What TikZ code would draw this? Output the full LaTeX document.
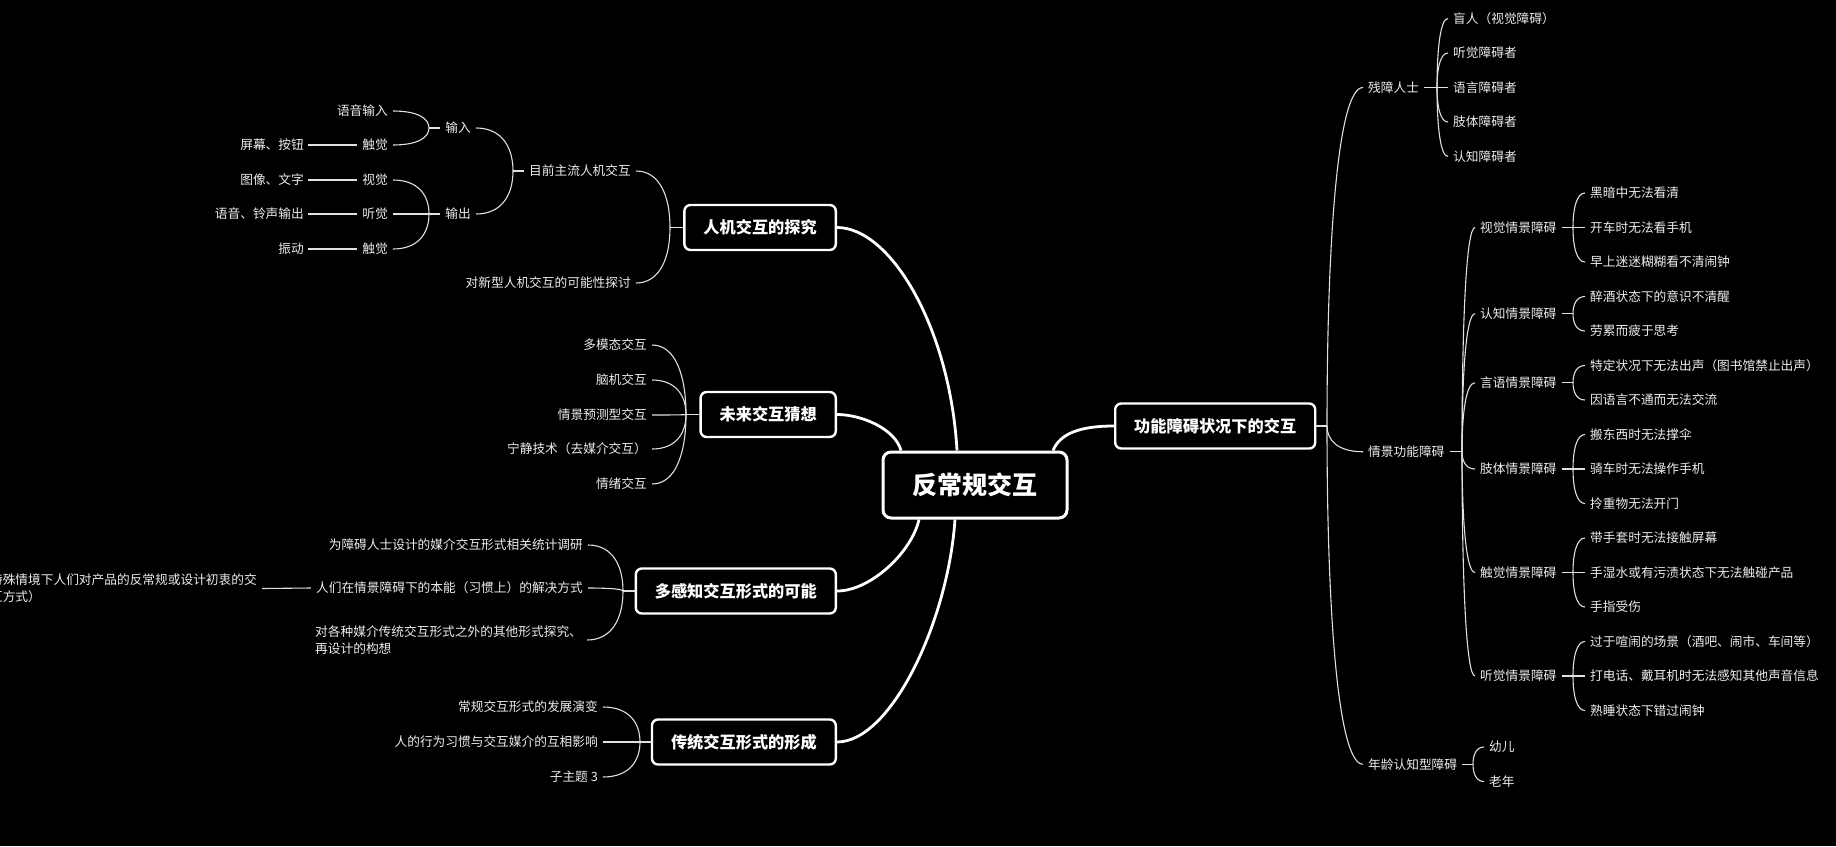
\documentclass[tikz,border=0pt]{standalone}
\usepackage{fontspec}
\setmainfont{Noto Sans CJK SC}
\usetikzlibrary{calc}
\definecolor{leafc}{gray}{0.93}
\definecolor{linec}{gray}{0.88}
\tikzset{
  leaf/.style={text=leafc, inner sep=0pt, font=\fontsize{12.7}{17}\selectfont},
  topic/.style={draw=white, line width=2.4pt, rounded corners=6pt, fill=black, text=white, inner xsep=19pt, inner ysep=0pt, minimum height=45pt, font=\fontsize{16.2}{19}\selectfont\bfseries},
  rootbox/.style={draw=white, line width=3pt, rounded corners=8pt, fill=black, text=white, minimum width=184pt, minimum height=66pt, font=\fontsize{25}{30}\selectfont\bfseries},
  brline/.style={draw=linec, line width=1.1pt},
  mline/.style={draw=white, line width=2.8pt},
}
\newcommand\brL[2]{\draw[brline] let \p1=(#1), \p2=([xshift=5pt]#2.east) in (\p1) .. controls (\x1,{\y1+0.55*(\y2-\y1)}) and ({\x1+0.3*(\x2-\x1)},\y2) .. (\p2);}
\newcommand\brR[2]{\draw[brline] let \p1=(#1), \p2=([xshift=-5pt]#2.west) in (\p1) .. controls (\x1,{\y1+0.55*(\y2-\y1)}) and ({\x1+0.3*(\x2-\x1)},\y2) .. (\p2);}
\begin{document}
\begin{tikzpicture}[x=1pt,y=-1pt]
\fill[black] (0,0) rectangle (1836,846);
\useasboundingbox (0,0) rectangle (1836,846);
\clip (0,0) rectangle (1836,846);

% root and main topics
\node[rootbox] (root) at (975,485) {反常规交互};
\node[topic, anchor=east] (ren) at (837,227.5) {人机交互的探究};
\node[topic, anchor=east] (wl) at (837,414.5) {未来交互猜想};
\node[topic, anchor=east] (dgz) at (837,591) {多感知交互形式的可能};
\node[topic, anchor=east] (ct) at (837,742) {传统交互形式的形成};
\node[topic, anchor=west] (gn) at (1114,426) {功能障碍状况下的交互};

\draw[mline] ([xshift=-18pt]root.north) .. controls +(-7,-122) and +(54,0) .. (ren.east);
\draw[mline] ([xshift=-74pt]root.north) .. controls +(-6,-22) and +(24,0) .. (wl.east);
\draw[mline] ([xshift=78pt]root.north) .. controls +(7,-17) and +(-34,0) .. (gn.west);
\draw[mline] ([xshift=-56pt]root.south) .. controls +(-7,32) and +(34,0) .. (dgz.east);
\draw[mline] ([xshift=-20pt]root.south) .. controls +(-7,102) and +(54,0) .. (ct.east);

% ---- 人机交互的探究
\coordinate (renJ) at (670,227.5);
\draw[brline] (ren.west) -- (renJ);
\node[leaf, anchor=east] (mq) at (631,171) {目前主流人机交互};
\node[leaf, anchor=east] (dx) at (631,283) {对新型人机交互的可能性探讨};
\brL{renJ}{mq}
\brL{renJ}{dx}
\coordinate (mqJ) at (513,171);
\draw[brline] ([xshift=-5pt]mq.west) -- (mqJ);
\node[leaf, anchor=east] (sr) at (471,128) {输入};
\node[leaf, anchor=east] (sc) at (471,214) {输出};
\brL{mqJ}{sr}
\brL{mqJ}{sc}
\coordinate (srJ) at (429,128);
\coordinate (scJ) at (429,214);
\draw[brline] ([xshift=-5pt]sr.west) -- (srJ);
\draw[brline] ([xshift=-5pt]sc.west) -- (scJ);
\node[leaf, anchor=east] (yy) at (388,111) {语音输入};
\node[leaf, anchor=east] (cja) at (388,145) {触觉};
\node[leaf, anchor=east] (sj) at (388,180) {视觉};
\node[leaf, anchor=east] (tj) at (388,214) {听觉};
\node[leaf, anchor=east] (cjb) at (388,249) {触觉};
\brL{srJ}{yy}
\brL{srJ}{cja}
\brL{scJ}{sj}
\brL{scJ}{tj}
\brL{scJ}{cjb}
\node[leaf, anchor=east] (pm) at (304,145) {屏幕、按钮};
\node[leaf, anchor=east] (tx) at (304,180) {图像、文字};
\node[leaf, anchor=east] (ly) at (304,214) {语音、铃声输出};
\node[leaf, anchor=east] (zd) at (304,249) {振动};
\draw[brline] ([xshift=-5pt]cja.west) -- ([xshift=4pt]pm.east);
\draw[brline] ([xshift=-5pt]sj.west) -- ([xshift=4pt]tx.east);
\draw[brline] ([xshift=-5pt]tj.west) -- ([xshift=4pt]ly.east);
\draw[brline] ([xshift=-5pt]cjb.west) -- ([xshift=4pt]zd.east);

% ---- 未来交互猜想
\coordinate (wlJ) at (686,414.5);
\draw[brline] (wl.west) -- (wlJ);
\node[leaf, anchor=east] (mm) at (647,345) {多模态交互};
\node[leaf, anchor=east] (nj) at (647,380) {脑机交互};
\node[leaf, anchor=east] (qj) at (647,415) {情景预测型交互};
\node[leaf, anchor=east] (nq) at (647,449) {宁静技术（去媒介交互）};
\node[leaf, anchor=east] (qx) at (647,484) {情绪交互};
\brL{wlJ}{mm}
\brL{wlJ}{nj}
\brL{wlJ}{qj}
\brL{wlJ}{nq}
\brL{wlJ}{qx}

% ---- 多感知交互形式的可能
\coordinate (dgzJ) at (623,591);
\draw[brline] (dgz.west) -- (dgzJ);
\node[leaf, anchor=east] (wz) at (583,545) {为障碍人士设计的媒介交互形式相关统计调研};
\node[leaf, anchor=east] (rq) at (583,588) {人们在情景障碍下的本能（习惯上）的解决方式};
\node[leaf, anchor=west, align=left] (dg3) at (315,640) {对各种媒介传统交互形式之外的其他形式探究、\\再设计的构想};
\brL{dgzJ}{wz}
\brL{dgzJ}{rq}
\brL{dgzJ}{dg3}
\node[leaf, anchor=east, align=left] (ts) at (257,588.5) {特殊情境下人们对产品的反常规或设计初衷的交\\互方式）};
\draw[brline] ([xshift=-5pt]rq.west) -- ([xshift=5pt]ts.east);

% ---- 传统交互形式的形成
\coordinate (ctJ) at (640,742);
\draw[brline] (ct.west) -- (ctJ);
\node[leaf, anchor=east] (cg) at (598,707) {常规交互形式的发展演变};
\node[leaf, anchor=east] (rx) at (598,742) {人的行为习惯与交互媒介的互相影响};
\node[leaf, anchor=east] (zt) at (598,777) {子主题 3};
\brL{ctJ}{cg}
\brL{ctJ}{rx}
\brL{ctJ}{zt}

% ---- 功能障碍状况下的交互
\coordinate (gnJ) at (1327,426);
\draw[brline] (gn.east) -- (gnJ);
\node[leaf, anchor=west] (cz) at (1368,87.5) {残障人士};
\node[leaf, anchor=west] (qg) at (1368,451.75) {情景功能障碍};
\node[leaf, anchor=west] (nl) at (1368,764.25) {年龄认知型障碍};
\brR{gnJ}{cz}
\brR{gnJ}{qg}
\brR{gnJ}{nl}

\coordinate (czJ) at (1437,87.5);
\draw[brline] ([xshift=5pt]cz.east) -- (czJ);
\node[leaf, anchor=west] (mr) at (1453,18.5) {盲人（视觉障碍）};
\node[leaf, anchor=west] (tjz) at (1453,53) {听觉障碍者};
\node[leaf, anchor=west] (yyz) at (1453,87.5) {语言障碍者};
\node[leaf, anchor=west] (ztz) at (1453,122) {肢体障碍者};
\node[leaf, anchor=west] (rzz) at (1453,156.5) {认知障碍者};
\brR{czJ}{mr}
\brR{czJ}{tjz}
\brR{czJ}{yyz}
\brR{czJ}{ztz}
\brR{czJ}{rzz}

\coordinate (nlJ) at (1473,764.25);
\draw[brline] ([xshift=5pt]nl.east) -- (nlJ);
\node[leaf, anchor=west] (ye) at (1489,747) {幼儿};
\node[leaf, anchor=west] (ln) at (1489,781.5) {老年};
\brR{nlJ}{ye}
\brR{nlJ}{ln}

\coordinate (qgJ) at (1462,451.75);
\draw[brline] ([xshift=5pt]qg.east) -- (qgJ);
\node[leaf, anchor=west] (s1) at (1480,227.5) {视觉情景障碍};
\node[leaf, anchor=west] (s2) at (1480,313.75) {认知情景障碍};
\node[leaf, anchor=west] (s3) at (1480,382.75) {言语情景障碍};
\node[leaf, anchor=west] (s4) at (1480,469) {肢体情景障碍};
\node[leaf, anchor=west] (s5) at (1480,572.5) {触觉情景障碍};
\node[leaf, anchor=west] (s6) at (1480,676) {听觉情景障碍};
\brR{qgJ}{s1}
\brR{qgJ}{s2}
\brR{qgJ}{s3}
\brR{qgJ}{s4}
\brR{qgJ}{s5}
\brR{qgJ}{s6}

\coordinate (s1J) at (1573,227.5);
\coordinate (s2J) at (1573,313.75);
\coordinate (s3J) at (1573,382.75);
\coordinate (s4J) at (1573,469);
\coordinate (s5J) at (1573,572.5);
\coordinate (s6J) at (1573,676);
\draw[brline] ([xshift=5pt]s1.east) -- (s1J);
\draw[brline] ([xshift=5pt]s2.east) -- (s2J);
\draw[brline] ([xshift=5pt]s3.east) -- (s3J);
\draw[brline] ([xshift=5pt]s4.east) -- (s4J);
\draw[brline] ([xshift=5pt]s5.east) -- (s5J);
\draw[brline] ([xshift=5pt]s6.east) -- (s6J);

\node[leaf, anchor=west] (l1) at (1590,193) {黑暗中无法看清};
\node[leaf, anchor=west] (l2) at (1590,227.5) {开车时无法看手机};
\node[leaf, anchor=west] (l3) at (1590,262) {早上迷迷糊糊看不清闹钟};
\node[leaf, anchor=west] (l4) at (1590,296.5) {醉酒状态下的意识不清醒};
\node[leaf, anchor=west] (l5) at (1590,331) {劳累而疲于思考};
\node[leaf, anchor=west] (l6) at (1590,365.5) {特定状况下无法出声（图书馆禁止出声）};
\node[leaf, anchor=west] (l7) at (1590,400) {因语言不通而无法交流};
\node[leaf, anchor=west] (l8) at (1590,434.5) {搬东西时无法撑伞};
\node[leaf, anchor=west] (l9) at (1590,469) {骑车时无法操作手机};
\node[leaf, anchor=west] (l10) at (1590,503.5) {拎重物无法开门};
\node[leaf, anchor=west] (l11) at (1590,538) {带手套时无法接触屏幕};
\node[leaf, anchor=west] (l12) at (1590,572.5) {手湿水或有污渍状态下无法触碰产品};
\node[leaf, anchor=west] (l13) at (1590,607) {手指受伤};
\node[leaf, anchor=west] (l14) at (1590,641.5) {过于喧闹的场景（酒吧、闹市、车间等）};
\node[leaf, anchor=west] (l15) at (1590,676) {打电话、戴耳机时无法感知其他声音信息};
\node[leaf, anchor=west] (l16) at (1590,710.5) {熟睡状态下错过闹钟};
\brR{s1J}{l1}
\brR{s1J}{l2}
\brR{s1J}{l3}
\brR{s2J}{l4}
\brR{s2J}{l5}
\brR{s3J}{l6}
\brR{s3J}{l7}
\brR{s4J}{l8}
\brR{s4J}{l9}
\brR{s4J}{l10}
\brR{s5J}{l11}
\brR{s5J}{l12}
\brR{s5J}{l13}
\brR{s6J}{l14}
\brR{s6J}{l15}
\brR{s6J}{l16}
\end{tikzpicture}
\end{document}
